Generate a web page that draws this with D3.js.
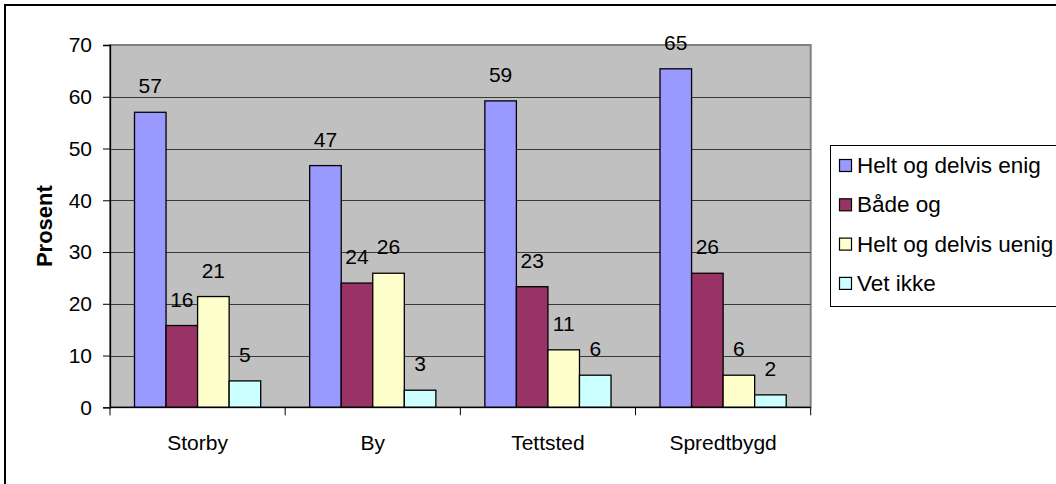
<!DOCTYPE html>
<html>
<head>
<meta charset="utf-8">
<script src="https://cdn.jsdelivr.net/npm/d3@7"></script>
<style>
  body { margin: 0; background: #fff; }
  svg { display: block; font-family: "Liberation Sans", Arial, sans-serif; }
</style>
</head>
<body>
<svg id="chart" width="1056" height="484"></svg>
<script>
// Chart data
const categories = ["Storby", "By", "Tettsted", "Spredtbygd"];
const seriesNames = ["Helt og delvis enig", "Både og", "Helt og delvis uenig", "Vet ikke"];
const seriesColours = ["#9999ff", "#993366", "#ffffcc", "#ccffff"];
// values[series][category]
const values = [
    [57.0, 46.7, 59.2, 65.4],
    [15.8, 24.0, 23.3, 25.9],
    [21.4, 25.9, 11.1, 6.2],
    [5.1, 3.3, 6.2, 2.4]
];
const yTicks = [0, 10, 20, 30, 40, 50, 60, 70];

const svg = d3.select("#chart");
const plot = { left: 110, top: 45, right: 810.7, bottom: 407.3 };
const fontSize = 21;

// outer frame (runs off the right and bottom edge)
svg.append("rect")
    .attr("x", 5).attr("y", 5)
    .attr("width", 1100).attr("height", 520)
    .attr("fill", "none")
    .attr("stroke", "#000")
    .attr("stroke-width", 2);

const x0 = d3.scaleBand()
    .domain(categories)
    .range([plot.left, plot.right])
    .padding(0);

const x1 = d3.scaleBand()
    .domain(d3.range(seriesNames.length))
    .range([24.5, x0.bandwidth() - 24.5])
    .padding(0);

const y = d3.scaleLinear()
    .domain([0, 70])
    .range([plot.bottom, plot.top]);

// plot background
svg.append("rect")
    .attr("x", plot.left).attr("y", plot.top)
    .attr("width", plot.right - plot.left)
    .attr("height", plot.bottom - plot.top)
    .attr("fill", "#c0c0c0")
    .attr("stroke", "#808080")
    .attr("stroke-width", 2);

// gridlines
svg.append("g")
    .selectAll("line")
    .data(yTicks.filter(d => d > 0 && d < 70))
    .join("line")
    .attr("x1", plot.left).attr("x2", plot.right)
    .attr("y1", d => Math.round(y(d)) + 0.5)
    .attr("y2", d => Math.round(y(d)) + 0.5)
    .attr("stroke", "#3a3a3a")
    .attr("stroke-width", 1);

// bars
const groups = svg.append("g")
    .selectAll("g")
    .data(categories)
    .join("g")
    .attr("transform", d => `translate(${x0(d)},0)`);

groups.selectAll("rect")
    .data((c, ci) => values.map((s, si) => ({ si, v: s[ci] })))
    .join("rect")
    .attr("x", d => x1(d.si))
    .attr("y", d => y(d.v))
    .attr("width", x1.bandwidth())
    .attr("height", d => y(0) - y(d.v))
    .attr("fill", d => seriesColours[d.si])
    .attr("stroke", "#000")
    .attr("stroke-width", 1.3);

groups.selectAll("text")
    .data((c, ci) => values.map((s, si) => ({ si, v: s[ci] })))
    .join("text")
    .attr("x", d => x1(d.si) + x1.bandwidth() / 2)
    .attr("y", d => y(d.v) - 19)
    .attr("text-anchor", "middle")
    .attr("font-size", fontSize)
    .attr("fill", "#000")
    .text(d => Math.round(d.v));

// y axis
const yAxis = svg.append("g")
    .attr("transform", `translate(${plot.left},0)`)
    .call(d3.axisLeft(y).tickValues(yTicks).tickSize(7).tickPadding(11).tickFormat(d3.format("d")));
yAxis.select(".domain").attr("stroke", "#000").attr("stroke-width", 1.3);
yAxis.selectAll(".tick line").attr("stroke", "#000");
yAxis.selectAll("text").attr("font-size", fontSize).attr("fill", "#000").attr("font-family", null);

// x axis: ticks at the category boundaries
const xAxis = svg.append("g")
    .attr("transform", `translate(0,${plot.bottom})`);
xAxis.append("line")
    .attr("x1", plot.left).attr("x2", plot.right)
    .attr("stroke", "#000").attr("stroke-width", 1.3);
xAxis.selectAll(".bound")
    .data(categories.map(c => x0(c)).concat([plot.right]))
    .join("line")
    .attr("class", "bound")
    .attr("x1", d => d).attr("x2", d => d)
    .attr("y1", 0).attr("y2", 8)
    .attr("stroke", "#000");
xAxis.selectAll("text")
    .data(categories)
    .join("text")
    .attr("x", d => x0(d) + x0.bandwidth() / 2)
    .attr("y", 43)
    .attr("text-anchor", "middle")
    .attr("font-size", fontSize)
    .text(d => d);

// y title
svg.append("text")
    .attr("transform", `translate(52,${(plot.top + plot.bottom) / 2}) rotate(-90)`)
    .attr("text-anchor", "middle")
    .attr("font-size", 22)
    .attr("font-weight", "bold")
    .text("Prosent");

// legend
const legend = svg.append("g").attr("transform", "translate(830,145)");
legend.append("rect")
    .attr("x", 0.5).attr("y", 0.5)
    .attr("width", 300).attr("height", 161)
    .attr("fill", "#fff")
    .attr("stroke", "#000")
    .attr("stroke-width", 1);

const items = legend.selectAll(".item")
    .data(seriesNames)
    .join("g")
    .attr("class", "item")
    .attr("transform", (d, i) => `translate(0,${20 + i * 39.3})`);

items.append("rect")
    .attr("x", 9.5).attr("y", -5.5)
    .attr("width", 12).attr("height", 12)
    .attr("fill", (d, i) => seriesColours[i])
    .attr("stroke", "#000")
    .attr("stroke-width", 1.2);

items.append("text")
    .attr("x", 27)
    .attr("y", 8)
    .attr("font-size", 22.5)
    .text(d => d);
</script>
</body>
</html>
